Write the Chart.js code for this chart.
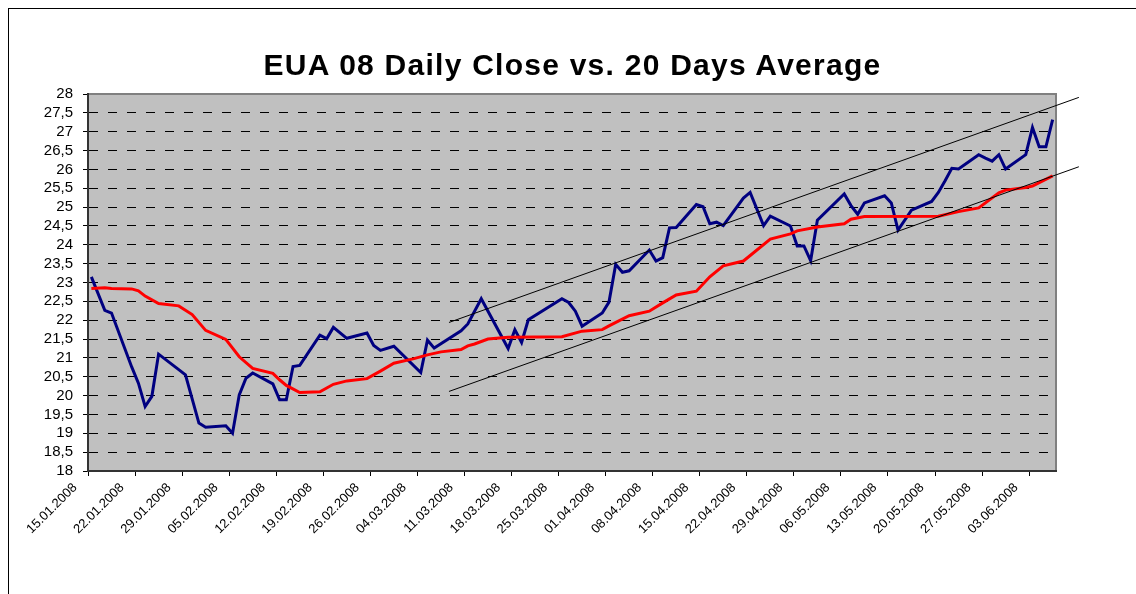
<!DOCTYPE html>
<html>
<head>
<meta charset="utf-8">
<script src="https://cdn.jsdelivr.net/npm/chart.js@4.4.1/dist/chart.umd.min.js"></script>
<style>
  html, body { margin: 0; padding: 0; background: #fff; overflow: hidden; }
  #wrap { position: relative; width: 1136px; height: 594px; }
  #frame { position: absolute; left: 8px; top: 8px; width: 1200px; height: 700px;
           border-left: 1px solid #000; border-top: 1px solid #000; pointer-events: none; }
  #title { position: absolute; left: 0; top: 47px; width: 1145px; text-align: center;
           font: bold 30px/36px 'Liberation Sans', Arial, sans-serif; letter-spacing: 1.25px;
           color: #000; white-space: nowrap; }
</style>
</head>
<body>
<div id="wrap">
  <canvas id="chart" width="1136" height="594"></canvas>
  <div id="title"></div>
  <div id="frame"></div>
</div>
<script>
// ─── Data ────────────────────────────────────────────────────────────────────
const TITLE = 'EUA 08 Daily Close vs. 20 Days Average';

const closeDates = [
  '15.01', '17.01', '18.01', '21.01', '22.01', '23.01', '24.01', '25.01', '28.01', '29.01',
  '31.01', '01.02', '04.02', '05.02', '06.02', '07.02', '08.02', '11.02', '12.02', '13.02',
  '14.02', '15.02', '18.02', '19.02', '20.02', '22.02', '25.02', '26.02', '27.02', '29.02',
  '04.03', '05.03', '06.03', '10.03', '11.03', '13.03', '17.03', '18.03', '19.03', '20.03',
  '25.03', '26.03', '27.03', '28.03', '31.03', '01.04', '02.04', '03.04', '04.04', '07.04',
  '08.04', '09.04', '10.04', '11.04', '14.04', '15.04', '16.04', '17.04', '18.04', '21.04',
  '22.04', '24.04', '25.04', '28.04', '29.04', '30.04', '01.05', '02.05', '06.05', '07.05',
  '08.05', '09.05', '12.05', '13.05', '14.05', '16.05', '19.05', '20.05', '21.05', '22.05',
  '23.05', '26.05', '27.05', '28.05', '29.05', '30.05', '02.06', '03.06', '04.06', '05.06',
  '06.06'
];
const closeValues = [
  23.15, 22.26, 22.19, 20.76, 20.33, 19.71, 19.98, 21.10, 20.69, 20.55,
  19.27, 19.16, 19.20, 19.00, 20.02, 20.46, 20.60, 20.31, 19.89, 19.89,
  20.77, 20.80, 21.60, 21.51, 21.81, 21.52, 21.66, 21.33, 21.20, 21.31,
  20.61, 21.47, 21.26, 21.72, 21.90, 22.57, 21.25, 21.75, 21.41, 22.01,
  22.57, 22.47, 22.24, 21.84, 22.19, 22.48, 23.48, 23.27, 23.31, 23.86,
  23.57, 23.66, 24.45, 24.46, 25.07, 25.01, 24.56, 24.60, 24.51, 25.24,
  25.39, 24.51, 24.76, 24.50, 23.97, 23.97, 23.58, 24.65, 25.35, 25.04,
  24.81, 25.11, 25.30, 25.11, 24.39, 24.92, 25.15, 25.39, 25.70, 26.03,
  26.01, 26.39, 26.30, 26.22, 26.39, 26.01, 26.39, 27.11, 26.60, 26.60,
  27.32
];

const avgDates = [
  '15.01', '17.01', '18.01', '21.01', '22.01', '23.01', '25.01', '28.01', '30.01', '01.02',
  '04.02', '06.02', '08.02', '11.02', '12.02', '13.02', '15.02', '18.02', '20.02', '22.02',
  '25.02', '27.02', '29.02', '03.03', '05.03', '07.03', '10.03', '11.03', '12.03', '14.03',
  '17.03', '25.03', '28.03', '31.03', '01.04', '04.04', '07.04', '09.04', '11.04', '14.04',
  '16.04', '18.04', '21.04', '25.04', '28.04', '29.04', '02.05', '06.05', '07.05', '09.05',
  '20.05', '23.05', '26.05', '29.05', '30.05', '02.06', '03.06', '06.06'
];
const avgValues = [
  22.84, 22.86, 22.84, 22.83, 22.78, 22.64, 22.44, 22.38, 22.15, 21.73,
  21.49, 21.03, 20.72, 20.59, 20.42, 20.27, 20.08, 20.10, 20.30, 20.39,
  20.45, 20.65, 20.86, 20.98, 21.08, 21.16, 21.22, 21.32, 21.37, 21.50,
  21.55, 21.56, 21.71, 21.75, 21.85, 22.12, 22.24, 22.46, 22.67, 22.77,
  23.15, 23.44, 23.57, 24.15, 24.29, 24.37, 24.47, 24.56, 24.68, 24.75,
  24.76, 24.88, 24.98, 25.38, 25.45, 25.52, 25.56, 25.83
];

// trend channel, in days after 15.01.2008
const trendDays  = [53.7, 147.4];
const upperTrend = [21.94, 27.91];
const lowerTrend = [20.11, 26.07];

const Y_MIN = 18, Y_MAX = 28, Y_STEP = 0.5;
const AXIS_DAYS = 144, X_STEP = 7;

// ─── Helpers ─────────────────────────────────────────────────────────────────
const DAY_MS = 86400000;
const AXIS_START = Date.UTC(2008, 0, 15);
const FONT = "'Liberation Sans', Arial, sans-serif";

const pad2 = n => String(n).padStart(2, '0');
// date axis: each day owns one slot, points sit in the middle of it
function dayPos(s) {
  const [d, m] = s.split('.').map(Number);
  return (Date.UTC(2008, m - 1, d) - AXIS_START) / DAY_MS + 0.5;
}
function fmtDate(v) {
  const dt = new Date(AXIS_START + v * DAY_MS);
  return pad2(dt.getUTCDate()) + '.' + pad2(dt.getUTCMonth() + 1) + '.' + dt.getUTCFullYear();
}
const toPoints = (dates, vals) => dates.map((s, i) => ({ x: dayPos(s), y: vals[i] }));

document.getElementById('title').textContent = TITLE;

// ─── Plot area background + frame ────────────────────────────────────────────
const plotBg = {
  id: 'plotBg',
  beforeDraw(chart) {
    const { ctx, chartArea: a } = chart;
    ctx.save();
    ctx.fillStyle = '#c0c0c0';
    ctx.fillRect(a.left, a.top, a.width, a.height);
    ctx.strokeStyle = '#808080';
    ctx.lineWidth = 2;
    ctx.strokeRect(a.left, a.top, a.width, a.height);
    ctx.restore();
  }
};

new Chart(document.getElementById('chart'), {
  type: 'line',
  data: {
    datasets: [
      { label: 'upper', data: trendDays.map((x, i) => ({ x, y: upperTrend[i] })),
        borderColor: '#000', borderWidth: 1, pointRadius: 0, clip: false, order: 0 },
      { label: 'lower', data: trendDays.map((x, i) => ({ x, y: lowerTrend[i] })),
        borderColor: '#000', borderWidth: 1, pointRadius: 0, clip: false, order: 0 },
      { label: '20 Days Average', data: toPoints(avgDates, avgValues),
        borderColor: '#ff0000', borderWidth: 3, pointRadius: 0, tension: 0, order: 1 },
      { label: 'Daily Close', data: toPoints(closeDates, closeValues),
        borderColor: '#000080', borderWidth: 3, pointRadius: 0, tension: 0, order: 2 },
    ]
  },
  options: {
    responsive: false, animation: false,
    layout: { padding: { left: 0, right: 80, top: 94, bottom: 0 } },
    plugins: {
      legend: { display: false },
      tooltip: { enabled: false },
      title: { display: false }
    },
    scales: {
      x: {
        type: 'linear', min: 0, max: AXIS_DAYS,
        afterBuildTicks: s => { s.ticks = s.ticks.filter(t => t.value % X_STEP === 0); },
        afterFit: s => { s.height = 123; },
        ticks: { stepSize: X_STEP, autoSkip: false, minRotation: 45, maxRotation: 45,
                 padding: 4, labelOffset: -13, color: '#000',
                 font: { family: FONT, size: 13 }, callback: v => fmtDate(v) },
        grid: { drawOnChartArea: false, tickLength: 5, color: '#000' },
        border: { color: '#333', width: 2 }
      },
      y: {
        min: Y_MIN, max: Y_MAX,
        afterFit: s => { s.width = 88; },
        ticks: { stepSize: Y_STEP, autoSkip: false, padding: 10, color: '#000',
                 font: { family: FONT, size: 15 },
                 callback: v => String(v).replace('.', ',') },
        grid: {
          color: c => (c.tick && (c.tick.value === Y_MIN || c.tick.value === Y_MAX)) ? 'rgba(0,0,0,0)' : '#000',
          tickColor: '#000', tickLength: 5, lineWidth: 1
        },
        border: { color: '#333', width: 2, dash: [9, 10] }
      }
    }
  },
  plugins: [plotBg]
});
</script>
</body>
</html>
